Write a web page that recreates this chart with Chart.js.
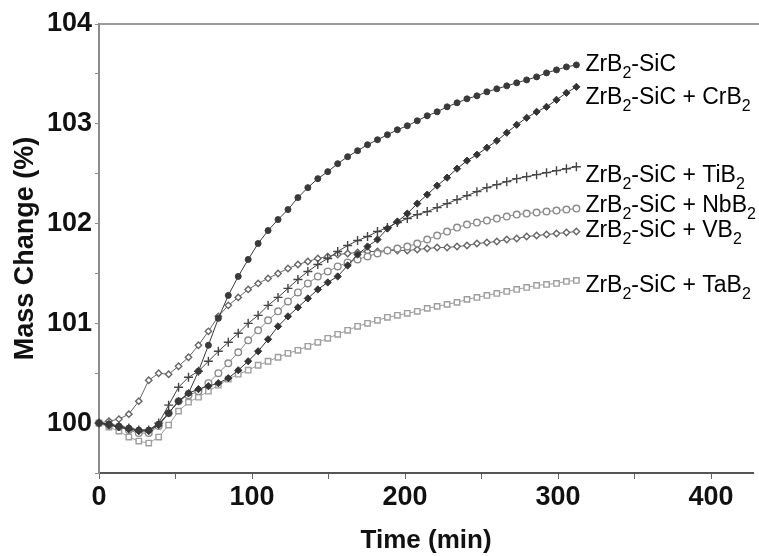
<!DOCTYPE html>
<html>
<head>
<meta charset="utf-8">
<script src="https://cdn.jsdelivr.net/npm/chart.js@4.4.0/dist/chart.umd.min.js"></script>
<style>
  html, body { margin: 0; padding: 0; background: #fff; }
  #canvas { display: block; }
</style>
</head>
<body>
<canvas id="canvas" width="759" height="556"></canvas>
<script>
// time (min)
var times = [0, 6.5, 13, 19.5, 26, 32.5, 39, 45.5, 52, 58.5, 65, 71.5, 78, 84.5, 91, 97.5,
    104, 110.5, 117, 123.5, 130, 136.5, 143, 149.5, 156, 162.5, 169, 175.5, 182, 188.5, 195,
    201.5, 208, 214.5, 221, 227.5, 234, 240.5, 247, 253.5, 260, 266.5, 273, 279.5, 286, 292.5,
    299, 305.5, 312];

// mass change (%)
var zrbSic = [100.00, 99.99, 99.97, 99.95, 99.93, 99.93, 99.99, 100.10, 100.22, 100.30, 100.52,
    100.78, 101.05, 101.28, 101.47, 101.64, 101.80, 101.93, 102.04, 102.14, 102.26, 102.36,
    102.45, 102.52, 102.60, 102.67, 102.73, 102.79, 102.84, 102.89, 102.94, 102.98, 103.03,
    103.08, 103.12, 103.17, 103.21, 103.25, 103.28, 103.32, 103.35, 103.38, 103.41, 103.44,
    103.47, 103.51, 103.54, 103.57, 103.59];
var withCrB2 = [100.00, 99.98, 99.96, 99.94, 99.92, 99.92, 99.98, 100.10, 100.22, 100.30, 100.34,
    100.37, 100.40, 100.45, 100.53, 100.62, 100.72, 100.84, 100.97, 101.07, 101.16, 101.25,
    101.34, 101.41, 101.47, 101.58, 101.69, 101.77, 101.84, 101.95, 102.02, 102.10, 102.20,
    102.29, 102.38, 102.46, 102.55, 102.63, 102.69, 102.76, 102.83, 102.91, 102.99, 103.06,
    103.12, 103.17, 103.24, 103.31, 103.37];
var withTiB2 = [100.00, 99.99, 99.97, 99.95, 99.93, 99.93, 100.00, 100.18, 100.36, 100.46, 100.52,
    100.62, 100.72, 100.81, 100.90, 101.00, 101.08, 101.18, 101.26, 101.35, 101.44, 101.52,
    101.59, 101.65, 101.72, 101.78, 101.83, 101.87, 101.92, 101.96, 102.01, 102.05, 102.09,
    102.12, 102.16, 102.20, 102.24, 102.28, 102.32, 102.36, 102.39, 102.42, 102.45, 102.47,
    102.49, 102.51, 102.53, 102.55, 102.57];
var withNbB2 = [100.00, 99.98, 99.96, 99.93, 99.90, 99.90, 99.97, 100.10, 100.22, 100.28, 100.32,
    100.40, 100.50, 100.60, 100.71, 100.83, 100.93, 101.03, 101.12, 101.22, 101.31, 101.40,
    101.47, 101.52, 101.57, 101.61, 101.64, 101.67, 101.70, 101.73, 101.75, 101.77, 101.80,
    101.84, 101.88, 101.92, 101.96, 101.99, 102.01, 102.03, 102.05, 102.07, 102.09, 102.10,
    102.11, 102.12, 102.13, 102.14, 102.15];
var withVB2 = [100.00, 100.02, 100.04, 100.09, 100.22, 100.43, 100.50, 100.49, 100.57, 100.66, 100.78,
    100.92, 101.07, 101.18, 101.26, 101.34, 101.40, 101.45, 101.50, 101.55, 101.59, 101.62,
    101.65, 101.67, 101.69, 101.70, 101.71, 101.72, 101.72, 101.73, 101.73, 101.73, 101.74,
    101.75, 101.76, 101.76, 101.77, 101.78, 101.80, 101.81, 101.82, 101.84, 101.85, 101.87,
    101.88, 101.89, 101.90, 101.91, 101.92];
var withTaB2 = [100.00, 99.96, 99.92, 99.86, 99.82, 99.80, 99.86, 99.98, 100.12, 100.21, 100.26,
    100.32, 100.38, 100.44, 100.49, 100.53, 100.58, 100.62, 100.66, 100.70, 100.73, 100.77,
    100.81, 100.85, 100.89, 100.93, 100.97, 101.00, 101.03, 101.06, 101.08, 101.10, 101.12,
    101.15, 101.17, 101.19, 101.21, 101.24, 101.26, 101.28, 101.30, 101.32, 101.34, 101.36,
    101.38, 101.39, 101.40, 101.42, 101.43];

var seriesNames = ['ZrB2-SiC', 'ZrB2-SiC + CrB2', 'ZrB2-SiC + TiB2',
    'ZrB2-SiC + NbB2', 'ZrB2-SiC + VB2', 'ZrB2-SiC + TaB2'];

var xTicks = [0, 50, 100, 150, 200, 250, 300, 350, 400];
var yTicks = [99.5, 100, 100.5, 101, 101.5, 102, 102.5, 103, 103.5, 104];

var FONT = '"Liberation Sans", Arial, sans-serif';

function toPoints(vals) {
    return vals.map(function (v, i) { return {x: times[i], y: v}; });
}

function makeSet(name, vals, color, style, radius, filled, dy) {
    return {
        label: name,
        data: toPoints(vals),
        borderColor: color,
        borderWidth: 1,
        pointStyle: style,
        pointRadius: radius,
        pointBorderColor: color,
        pointBackgroundColor: filled ? color : '#ffffff',
        pointBorderWidth: filled ? 1 : 1.4,
        tension: 0,
        clip: false,
        labelDy: dy
    };
}

// series names at the right end of every curve, with subscript 2
var endLabels = {
    id: 'endLabels',
    afterDatasetsDraw: function (chart) {
        var ctx = chart.ctx;
        ctx.save();
        ctx.fillStyle = '#000000';
        ctx.textBaseline = 'middle';
        chart.data.datasets.forEach(function (ds, i) {
            var meta = chart.getDatasetMeta(i);
            var last = meta.data[meta.data.length - 1];
            var x = last.x + 9;
            var y = last.y + ds.labelDy;
            var parts = ds.label.split('2');
            parts.forEach(function (p, k) {
                ctx.font = '23px ' + FONT;
                ctx.fillText(p, x, y);
                x += ctx.measureText(p).width;
                if (k < parts.length - 1) {
                    ctx.font = '16px ' + FONT;
                    ctx.fillText('2', x, y + 9);
                    x += ctx.measureText('2').width;
                }
            });
        });
        ctx.restore();
    }
};

// top frame line
var topFrame = {
    id: 'topFrame',
    beforeDatasetsDraw: function (chart) {
        var a = chart.chartArea;
        var ctx = chart.ctx;
        ctx.save();
        ctx.strokeStyle = '#9a9a9a';
        ctx.lineWidth = 2;
        ctx.beginPath();
        ctx.moveTo(a.left, a.top);
        ctx.lineTo(759, a.top);
        ctx.stroke();
        ctx.restore();
    }
};

var ctx = document.getElementById('canvas').getContext('2d');
window.myChart = new Chart(ctx, {
    type: 'line',
    data: {
        datasets: [
            makeSet(seriesNames[0], zrbSic, '#3a3a3a', 'circle', 3, true, 0),
            makeSet(seriesNames[1], withCrB2, '#333333', 'rectRot', 3.6, true, 11),
            makeSet(seriesNames[2], withTiB2, '#444444', 'cross', 4.5, false, 9),
            makeSet(seriesNames[3], withNbB2, '#8a8a8a', 'circle', 3.3, false, -3),
            makeSet(seriesNames[4], withVB2, '#666666', 'rectRot', 3.2, false, -1),
            makeSet(seriesNames[5], withTaB2, '#9e9e9e', 'rect', 3.8, false, 5)
        ]
    },
    plugins: [topFrame, endLabels],
    options: {
        responsive: false,
        animation: false,
        devicePixelRatio: 1,
        layout: {padding: {top: 24, right: 0, left: 0, bottom: 0}},
        plugins: {
            legend: {display: false},
            tooltip: {enabled: false},
            title: {display: false}
        },
        scales: {
            x: {
                type: 'linear',
                min: 0,
                max: 427.5,
                afterBuildTicks: function (scale) {
                    scale.ticks = xTicks.map(function (v) { return {value: v}; });
                },
                afterFit: function (scale) { scale.height = 83; },
                border: {color: '#555555', width: 2},
                grid: {drawOnChartArea: false, drawTicks: true, tickLength: 6, color: '#666666'},
                ticks: {
                    padding: 2,
                    maxRotation: 0,
                    autoSkip: false,
                    color: '#111111',
                    font: {family: FONT, size: 27, weight: 'bold'},
                    callback: function (v) { return v % 100 === 0 ? v : ''; }
                },
                title: {
                    display: true,
                    text: 'Time (min)',
                    color: '#111111',
                    padding: {top: 0, bottom: 0},
                    font: {family: FONT, size: 26, weight: 'bold'}
                }
            },
            y: {
                type: 'linear',
                min: 99.5,
                max: 104,
                afterBuildTicks: function (scale) {
                    scale.ticks = yTicks.map(function (v) { return {value: v}; });
                },
                afterFit: function (scale) { scale.width = 99; },
                border: {color: '#8c8c8c', width: 2},
                grid: {drawOnChartArea: false, drawTicks: true, tickLength: 4, color: '#8c8c8c'},
                ticks: {
                    padding: 3,
                    autoSkip: false,
                    color: '#111111',
                    font: {family: FONT, size: 27, weight: 'bold'},
                    callback: function (v) { return v % 1 === 0 ? v : ''; }
                },
                title: {
                    display: true,
                    text: 'Mass Change (%)',
                    color: '#111111',
                    padding: {top: 9, bottom: 0},
                    font: {family: FONT, size: 27, weight: 'bold'}
                }
            }
        }
    }
});
</script>
</body>
</html>
